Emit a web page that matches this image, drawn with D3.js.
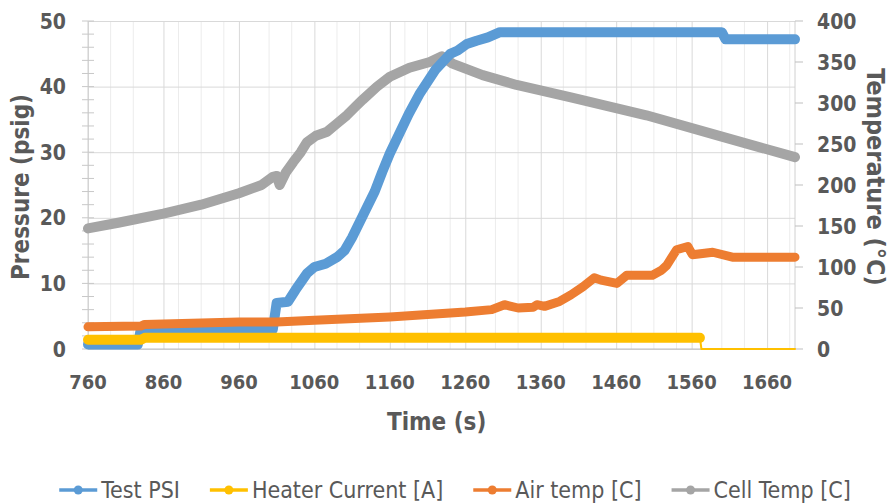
<!DOCTYPE html>
<html>
<head>
<meta charset="utf-8">
<script src="https://cdn.jsdelivr.net/npm/d3@7"></script>
<style>
  body { margin: 0; background: #fff; }
  svg text { font-family: "Liberation Sans Narrow", "Arial Narrow", "DejaVu Sans Condensed", sans-serif; fill: #595959; }
</style>
</head>
<body>
<svg id="chart" width="891" height="504"></svg>
<script>
'use strict';

// series (time in s)
const psiTime = [760, 826, 830, 1005, 1010, 1025, 1035, 1050, 1060, 1075, 1090, 1100, 1110, 1125, 1140,
    1150, 1160, 1170, 1185, 1200, 1220, 1240, 1250, 1262, 1275, 1290, 1306, 1600, 1605, 1697];
const psiValue = [0.7, 0.7, 3.0, 3.0, 7.0, 7.2, 9.0, 11.5, 12.5, 13.0, 14.0, 15.0, 17.0, 20.5, 24.0,
    27.0, 29.8, 32.2, 35.8, 39.0, 42.5, 45.0, 45.5, 46.5, 47.0, 47.5, 48.3, 48.3, 47.2, 47.2];

const heaterTime = [760, 830, 835, 1571, 1573, 1697];
const heaterValue = [1.4, 1.4, 1.7, 1.7, 0, 0];

const airTime = [760, 830, 835, 960, 1010, 1060, 1160, 1260, 1295, 1312, 1330, 1350, 1355, 1365, 1385,
    1400, 1416, 1431, 1440, 1461, 1474, 1508, 1520, 1527, 1540, 1555, 1561, 1588, 1614, 1659, 1697];
const airValue = [27, 28, 30, 33, 33, 35, 39, 45, 48, 54, 50, 51, 54, 52, 58,
    66, 76, 87, 84, 80, 90, 90, 96, 102, 121, 125, 115, 118, 112, 112, 112];

const cellTime = [760, 800, 860, 910, 960, 990, 1005, 1010, 1014, 1022, 1032, 1042, 1050, 1062, 1077,
    1090, 1103, 1115, 1124, 1143, 1160, 1186, 1213, 1229, 1243, 1283, 1328, 1400, 1500, 1600, 1697];
const cellValue = [147, 154, 165, 176, 190, 200, 210, 211, 200, 215, 228, 240, 252, 260, 265,
    275, 285, 296, 304, 320, 332, 343, 350, 357, 348, 334, 322, 307, 285, 259, 234];

const xTicks = [760, 860, 960, 1060, 1160, 1260, 1360, 1460, 1560, 1660];
const leftTicks = [0, 10, 20, 30, 40, 50];
const rightTicks = [0, 50, 100, 150, 200, 250, 300, 350, 400];

const seriesNames = ['Test PSI', 'Heater Current [A]', 'Air temp [C]', 'Cell Temp [C]'];
const seriesColors = ['#5B9BD5', '#FFC000', '#ED7D31', '#A5A5A5'];

const margin = {left: 88, right: 96, top: 21, bottom: 155},
    width = 891 - margin.left - margin.right,
    height = 504 - margin.top - margin.bottom,
    lineWidth = 10;

const svg = d3.select('#chart');
const g = svg.append('g').attr('transform', `translate(${margin.left}, ${margin.top})`);

const x = d3.scaleLinear().domain([760, 1697]).range([0, width]);
const yL = d3.scaleLinear().domain([0, 50]).range([height, 0]);
const yR = d3.scaleLinear().domain([0, 400]).range([height, 0]);

// minor vertical grid
const minor = d3.range(790, 1697, 30).filter(t => xTicks.every(m => Math.abs(m - t) > 10));
g.append('g')
    .selectAll('line').data(minor).enter().append('line')
    .attr('x1', d => x(d)).attr('x2', d => x(d))
    .attr('y1', 0).attr('y2', height)
    .attr('stroke', '#ececec').attr('stroke-width', 1);

// major grid
g.append('g')
    .call(d3.axisBottom(x).tickValues(xTicks).tickSize(height).tickFormat(''))
    .call(a => a.select('.domain').remove())
    .selectAll('line').attr('stroke', '#d9d9d9');

g.append('g')
    .call(d3.axisLeft(yL).tickValues(leftTicks).tickSize(-width).tickFormat(''))
    .call(a => a.select('.domain').remove())
    .selectAll('line').attr('stroke', '#d9d9d9');

// axis lines
g.append('line').attr('x1', 0).attr('x2', width).attr('y1', height).attr('y2', height)
    .attr('stroke', '#bfbfbf');
g.append('line').attr('x1', 0).attr('x2', 0).attr('y1', 0).attr('y2', height)
    .attr('stroke', '#d0d0d0');
g.append('line').attr('x1', width).attr('x2', width).attr('y1', 0).attr('y2', height)
    .attr('stroke', '#d0d0d0');

// left minor tick marks every 2
g.append('g')
    .selectAll('line').data(d3.range(0, 51, 2)).enter().append('line')
    .attr('x1', -6).attr('x2', 6)
    .attr('y1', d => yL(d)).attr('y2', d => yL(d))
    .attr('stroke', '#c8c8c8');

// right tick marks
g.append('g')
    .selectAll('line').data(rightTicks).enter().append('line')
    .attr('x1', width).attr('x2', width + 8)
    .attr('y1', d => yR(d)).attr('y2', d => yR(d))
    .attr('stroke', '#bfbfbf');

// tick labels
g.append('g').selectAll('text').data(leftTicks).enter().append('text')
    .attr('x', -22).attr('y', d => yL(d)).attr('dy', '0.36em')
    .attr('text-anchor', 'end')
    .attr('font-size', 21).attr('font-weight', 'bold')
    .text(d => d);

g.append('g').selectAll('text').data(rightTicks).enter().append('text')
    .attr('x', width + 22).attr('y', d => yR(d)).attr('dy', '0.36em')
    .attr('text-anchor', 'start')
    .attr('font-size', 21).attr('font-weight', 'bold')
    .text(d => d);

g.append('g').selectAll('text').data(xTicks).enter().append('text')
    .attr('x', d => x(d)).attr('y', height + 33).attr('dy', '0.36em')
    .attr('text-anchor', 'middle')
    .attr('font-size', 20).attr('font-weight', 'bold')
    .text(d => d);

// axis titles
svg.append('text')
    .attr('transform', `translate(29, ${margin.top + height / 2 + 2}) rotate(-90)`)
    .attr('text-anchor', 'middle').attr('font-size', 24).attr('font-weight', 'bold')
    .text('Pressure (psig)');

svg.append('text')
    .attr('transform', `translate(867, ${margin.top + height / 2 - 8}) rotate(90)`)
    .attr('text-anchor', 'middle').attr('font-size', 25).attr('font-weight', 'bold')
    .text('Temperature (°C)');

svg.append('text')
    .attr('x', margin.left + x(1222)).attr('y', 430)
    .attr('text-anchor', 'middle').attr('font-size', 24).attr('font-weight', 'bold')
    .text('Time (s)');

// series
function drawLine(times, values, yScale, color, w) {
    const pts = times.map((t, i) => [t, values[i]]);
    g.append('path')
        .datum(pts)
        .attr('fill', 'none')
        .attr('stroke', color)
        .attr('stroke-width', w)
        .attr('stroke-linejoin', 'round')
        .attr('stroke-linecap', 'round')
        .attr('d', d3.line().x(d => x(d[0])).y(d => yScale(d[1])));
}

drawLine(cellTime, cellValue, yR, seriesColors[3], lineWidth);
drawLine(psiTime, psiValue, yL, seriesColors[0], lineWidth);

// heater: thick while on, thin once it drops to zero
const off = heaterValue.indexOf(0);
drawLine(heaterTime.slice(0, off), heaterValue.slice(0, off), yL, seriesColors[1], lineWidth);
drawLine(heaterTime.slice(off - 1), heaterValue.slice(off - 1), yL, seriesColors[1], 2);

drawLine(airTime, airValue, yR, seriesColors[2], lineWidth - 1);

// legend
const legend = svg.append('g');
let cursor = 0;
seriesNames.forEach((name, i) => {
    const item = legend.append('g');
    item.append('line').attr('x1', 0).attr('x2', 38).attr('y1', 0).attr('y2', 0)
        .attr('stroke', seriesColors[i]).attr('stroke-width', 3.5);
    item.append('circle').attr('cx', 19).attr('cy', 0).attr('r', 4.5)
        .attr('fill', seriesColors[i]);
    const t = item.append('text').attr('x', 42).attr('dy', '0.36em')
        .attr('font-size', 23).text(name);
    item.attr('transform', `translate(${cursor}, 0)`);
    cursor += 42 + t.node().getComputedTextLength() + 30;
});
const total = cursor - 30;
legend.attr('transform', `translate(${455 - total / 2}, 490)`);
</script>
</body>
</html>
